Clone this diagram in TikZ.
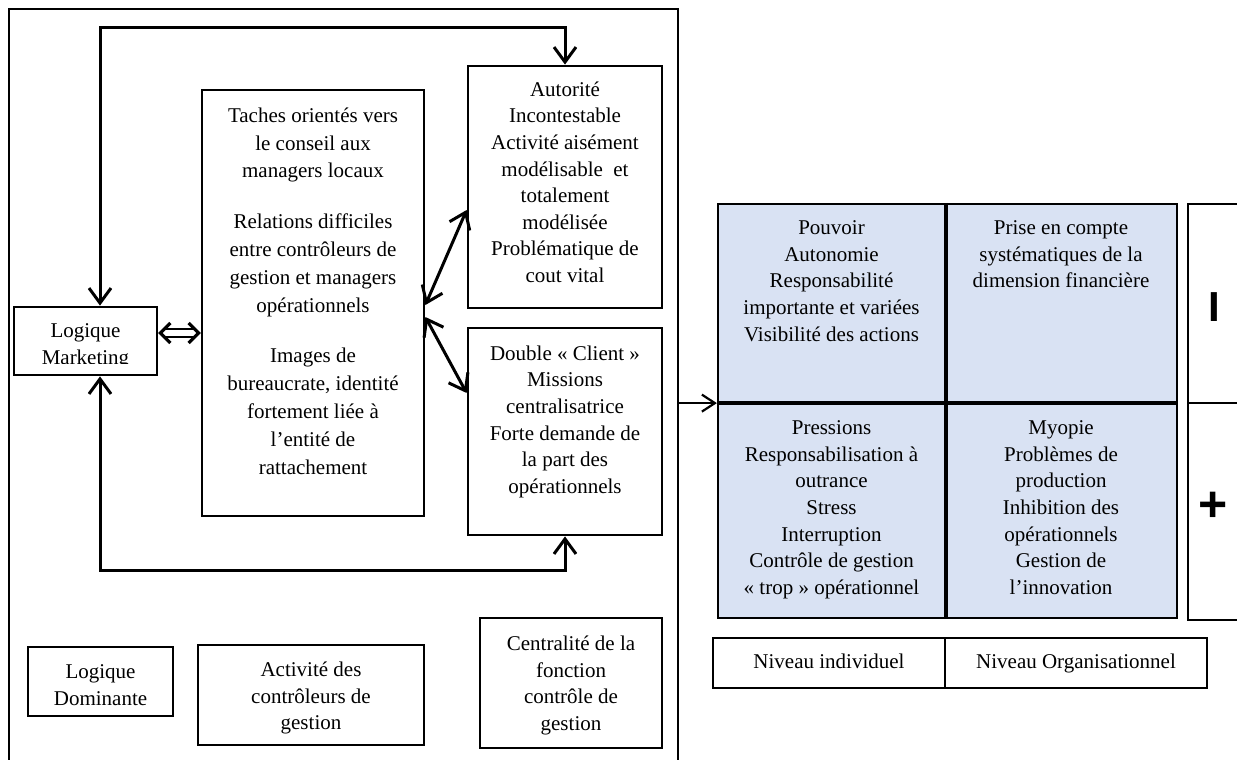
\documentclass[tikz,border=0pt]{standalone}
\usepackage{fontspec}
\setmainfont{Liberation Serif}
\newfontfamily\signfont{Liberation Sans}
\usetikzlibrary{arrows.meta,calc}
\definecolor{cellblue}{HTML}{D9E2F3}

\begin{document}
\begin{tikzpicture}[x=1pt,y=-1pt,
  box/.style={draw, line width=2.8pt, inner sep=0pt},
  cell/.style={draw, line width=2.2pt, fill=cellblue, inner sep=0pt},
  thinbox/.style={draw, line width=2.2pt, inner sep=0pt},
  txt/.style={align=center, inner sep=0pt, font=\fontsize{21}{26.6}\selectfont},
  tallskip/.style={align=center, inner sep=0pt, font=\fontsize{21}{27.8}\selectfont},
  levelbox/.style={thinbox, txt, text height=14.5pt, text depth=4.5pt},
  barb/.tip={Straight Barb[length=15pt,width=22pt]},
  link/.style={line width=3pt, barb-barb},
]
\clip (0,0) rectangle (1237,760);

% outer frame of the left panel
\node[thinbox, minimum width=669, minimum height=781] (frame) at (343.5,399.5) {};

% boxes of the left panel
\node[box, minimum width=143, minimum height=68] (lm) at (85.5,341) {};
\begin{scope}
  \clip (14,307) rectangle (157,363);
  \node[txt, anchor=north] (lmtxt) at (85.5,323.5) {Logique\\Marketing};
\end{scope}

\node[box, minimum width=222, minimum height=426] (taches) at (313,303) {};
\node[tallskip, anchor=north] (tachestxt) at (313,107.5) {Taches orientés vers\\le conseil aux\\managers locaux\\[23pt]Relations difficiles\\entre contrôleurs de\\gestion et managers\\opérationnels\\[23pt]Images de\\bureaucrate, identité\\fortement liée à\\l’entité de\\rattachement};

\node[box, minimum width=194, minimum height=242] (aut) at (565,187) {};
\node[txt, anchor=north] (auttxt) at (565,81.5) {Autorité\\Incontestable\\Activité aisément\\modélisable\ \ et\\totalement\\modélisée\\Problématique de\\cout vital};

\node[box, minimum width=194, minimum height=207] (dbl) at (565,431.5) {};
\node[txt, anchor=north] (dbltxt) at (565,345.5) {Double « Client »\\Missions\\centralisatrice\\Forte demande de\\la part des\\opérationnels};

\node[box, minimum width=145, minimum height=69] (dom) at (100.5,681.5) {};
\node[txt] (domtxt) at (100.5,685) {Logique\\Dominante};
\node[box, minimum width=226, minimum height=100] (act) at (311,695) {};
\node[txt] (acttxt) at (311,698) {Activité des\\contrôleurs de\\gestion};
\node[box, minimum width=182, minimum height=130] (cen) at (571,683) {};
\node[txt] (centxt) at (571,685.5) {Centralité de la\\fonction\\contrôle de\\gestion};

% connectors of the left panel
\coordinate (xl) at (100,0);
\coordinate (ytop) at (0,28);
\coordinate (ybot) at (0,570);
\draw[link] (xl |- lm.north) -- (xl |- ytop) -- (aut.north |- ytop) -- (aut.north);
\draw[link] (xl |- lm.south) -- (xl |- ybot) -- (dbl.south |- ybot) -- (dbl.south);

% hollow double arrow between the marketing box and the task box
\coordinate (dl) at ([yshift=8pt]lm.east);
\coordinate (dr) at (dl -| taches.west);
\draw[line width=3.2pt, line join=miter] ($(dl)+(12,-10)$) -- ($(dl)+(2,0)$) -- ($(dl)+(12,10)$);
\draw[line width=3.2pt, line join=miter] ($(dr)+(-12,-10)$) -- ($(dr)+(-2,0)$) -- ($(dr)+(-12,10)$);
\draw[line width=2.8pt] ($(dl)+(6,-4)$) -- ($(dr)+(-6,-4)$);
\draw[line width=2.8pt] ($(dl)+(6,4)$) -- ($(dr)+(-6,4)$);

\draw[link] ([yshift=-2pt]taches.east) -- ([yshift=-23pt]aut.west);
\draw[link] ([yshift=-14pt]taches.east) -- ([yshift=38.5pt]dbl.west);

% quadrant grid
\node[cell, minimum width=227, minimum height=198] (q1) at (831.5,303) {};
\node[cell, minimum width=232, minimum height=198] (q2) at (1061,303) {};
\node[cell, minimum width=227, minimum height=216] (q3) at (831.5,510) {};
\node[cell, minimum width=232, minimum height=216] (q4) at (1061,510) {};
\draw[line width=3.2pt] (q1.north east) -- (q3.south east);
\draw[line width=3.2pt] (q1.south west) -- (q2.south east);

\node[txt, anchor=north] (q1txt) at (831.5,220.5) {Pouvoir\\Autonomie\\Responsabilité\\importante et variées\\Visibilité des actions};
\node[txt, anchor=north] (q2txt) at (1061,220.5) {Prise en compte\\systématiques de la\\dimension financière};
\node[txt, anchor=north] (q3txt) at (831.5,420.5) {Pressions\\Responsabilisation à\\outrance\\Stress\\Interruption\\Contrôle de gestion\\« trop » opérationnel};
\node[txt, anchor=north] (q4txt) at (1061,420.5) {Myopie\\Problèmes de\\production\\Inhibition des\\opérationnels\\Gestion de\\l’innovation};

% side scale
\node[thinbox, minimum width=62, minimum height=199] (r1) at (1219,303.5) {};
\node[thinbox, minimum width=62, minimum height=217] (r2) at (1219,511.5) {};
\node[inner sep=0pt, font=\signfont\bfseries\fontsize{42}{42}\selectfont] (minus) at (1214,307) {I};
\node[inner sep=0pt, font=\signfont\bfseries\fontsize{50}{50}\selectfont] (plus) at (1213,507) {+};

% level labels
\node[levelbox, minimum width=232, minimum height=50] (n1) at (829,663) {Niveau individuel};
\node[levelbox, minimum width=262, minimum height=50] (n2) at (1076,663) {Niveau Organisationnel};

% link from the left panel to the grid
\draw[line width=2.2pt, -{Straight Barb[length=13pt,width=17pt]}] (frame.east |- q1.south west) -- (q1.south west);
\end{tikzpicture}
\end{document}
